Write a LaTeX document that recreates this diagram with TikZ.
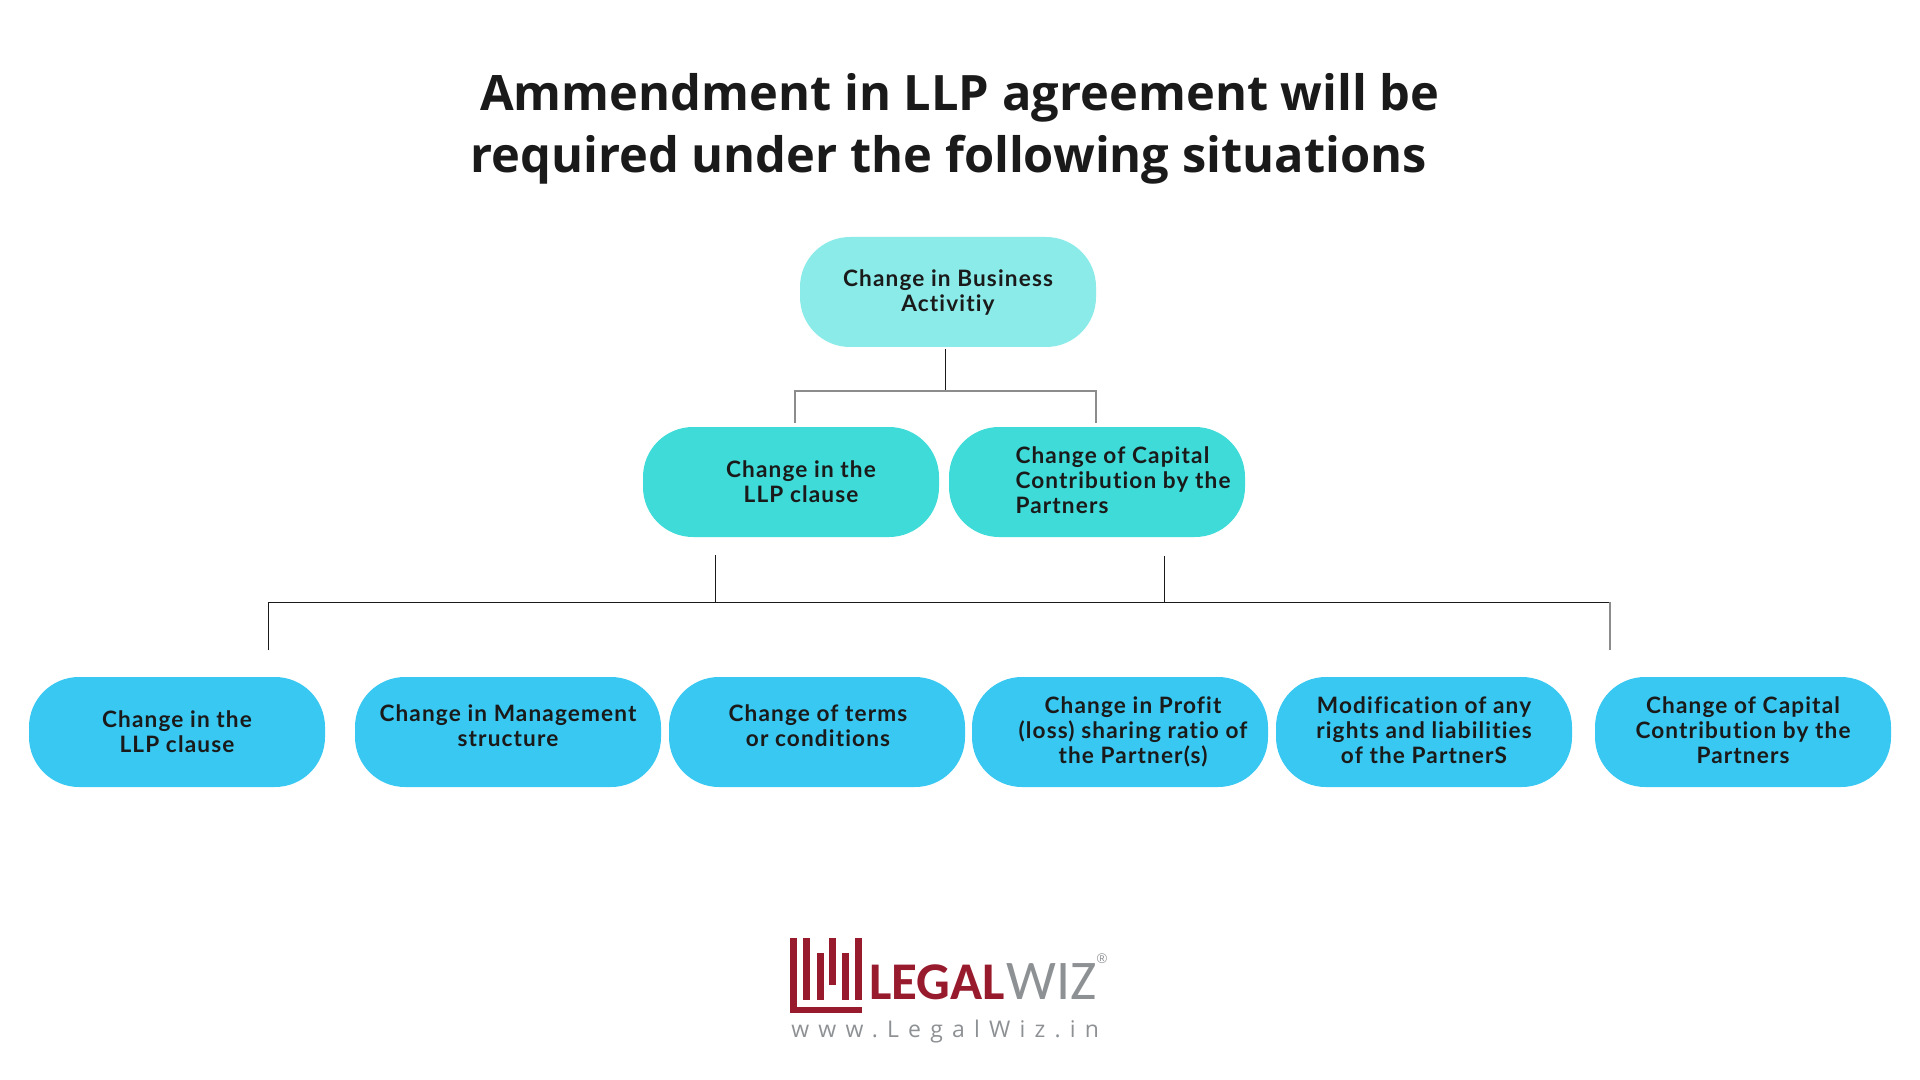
\documentclass[tikz,border=0pt]{standalone}
\usepackage{fontspec}
\setmainfont{Lato}
\newfontfamily\titlefont{Open Sans}
\newfontfamily\boxfont[LetterSpace=5,Ligatures=NoCommon]{Lato}
\newfontfamily\logofont{Carlito}
\newfontfamily\regfont{Liberation Sans}
\newfontfamily\urlfont[LetterSpace=40]{Open Sans}
\definecolor{topfill}{HTML}{8AEBE8}
\definecolor{midfill}{HTML}{3EDBD8}
\definecolor{lowfill}{HTML}{38C8F2}
\definecolor{inkblack}{HTML}{1A1A1A}
\definecolor{logored}{HTML}{981B2D}
\definecolor{logogrey}{HTML}{8E9194}
\tikzset{
	pill/.style={rounded corners=25pt, minimum width=148pt, minimum height=55pt, inner sep=0pt, text=inkblack, align=center, font=\boxfont\bfseries\fontsize{11.3}{12.5}\selectfont},
	boxtext/.style={inner sep=0pt, text=inkblack, font=\boxfont\bfseries\fontsize{11.3}{12.5}\selectfont},
	link/.style={draw=inkblack, line width=0.5pt},
	greylink/.style={draw=black!45, line width=0.6pt}
}
\begin{document}
\begin{tikzpicture}[x=0.5pt,y=-0.5pt]
	\useasboundingbox (0,0) rectangle (1920,1080);
	% heading
	\node [inner sep=0pt, align=left, text=inkblack, font=\titlefont\bfseries\fontsize{24.4}{31}\selectfont] (heading) at (955,129) {\hspace*{5pt}Ammendment in LLP agreement will be\\required under the following situations};
	% first two levels
	\node [pill, fill=topfill] (activity) at (948,292) {Change in Business\\Activitiy};
	\node [pill, fill=midfill] (clause) at (791,482) {};
	\node [boxtext, align=center] (clausetext) at (801,482) {Change in the\\LLP clause};
	\node [pill, fill=midfill] (capital) at (1097,482) {};
	\node [boxtext, align=left] (capitaltext) at (1123,480) {Change of Capital\\Contribution by the\\Partners};
	% bottom row
	\node [pill, fill=lowfill] (lowclause) at (177,732) {Change in the\\LLP clause};
	\node [pill, fill=lowfill, minimum width=153pt] (management) at (508,732) {};
	\node [boxtext, align=center] (managementtext) at (508,726) {Change in Management\\structure};
	\node [pill, fill=lowfill] (terms) at (817,732) {};
	\node [boxtext, align=center] (termstext) at (818,726) {Change of terms\\or conditions};
	\node [pill, fill=lowfill] (profit) at (1120,732) {};
	\node [boxtext, align=center] (profittext) at (1133,732) {Change in Profit\\(loss) sharing ratio of\\the Partner(s)};
	\node [pill, fill=lowfill] (rights) at (1424,732) {};
	\node [boxtext, align=center] (rightstext) at (1424,730) {Modification of any\\rights and liabilities\\of the PartnerS};
	\node [pill, fill=lowfill] (lowcapital) at (1743,732) {};
	\node [boxtext, align=center] (lowcapitaltext) at (1743,730) {Change of Capital\\Contribution by the\\Partners};
	% connectors, they stop short of the boxes
	\coordinate (topstem) at (945,349);
	\coordinate (topjoin) at (945,391);
	\coordinate (topleft) at (795,391);
	\coordinate (topleftend) at (795,423);
	\coordinate (topright) at (1096,391);
	\coordinate (toprightend) at (1096,423);
	\coordinate (stemone) at (715,555);
	\coordinate (joinone) at (715,602);
	\coordinate (stemtwo) at (1164,556);
	\coordinate (jointwo) at (1164,602);
	\coordinate (railleft) at (268,602);
	\coordinate (railleftend) at (268,650);
	\coordinate (railright) at (1610,602);
	\coordinate (railrightend) at (1610,650);
	\draw [link] (topstem)--(topjoin);
	\draw [greylink] (topleftend)--(topleft)--(topright)--(toprightend);
	\draw [link] (stemone)--(joinone);
	\draw [link] (stemtwo)--(jointwo);
	\draw [link] (railleftend)--(railleft)--(railright);
	\draw [greylink] (railright)--(railrightend);
	% logo
	\fill [logored] (790,938) rectangle (797,1013);
	\fill [logored] (790,1007) rectangle (862,1013);
	\foreach \barx/\bartop/\barbot in {803/938/1000, 817/953/1000, 829/938/985, 842/953/1000, 855/938/1000}
		\fill [logored] (\barx,\bartop) rectangle (\barx+7,\barbot);
	\node [inner sep=0pt, anchor=base west, text=logored, font=\logofont\bfseries\fontsize{26.5}{26.5}\selectfont] (legal) at (869,999) {LEGAL};
	\node [inner sep=0pt, anchor=base east, text=logogrey, font=\logofont\fontsize{28}{28}\selectfont] (wiz) at (1097,999) {WIZ};
	\node [inner sep=0pt, text=logogrey, font=\regfont\fontsize{7}{7}\selectfont] (regmark) at (1102,959) {®};
	\node [inner sep=0pt, anchor=base west, text=logogrey, font=\urlfont\fontsize{11.5}{12}\selectfont] (website) at (791,1037) {www.LegalWiz.in};
\end{tikzpicture}
\end{document}
